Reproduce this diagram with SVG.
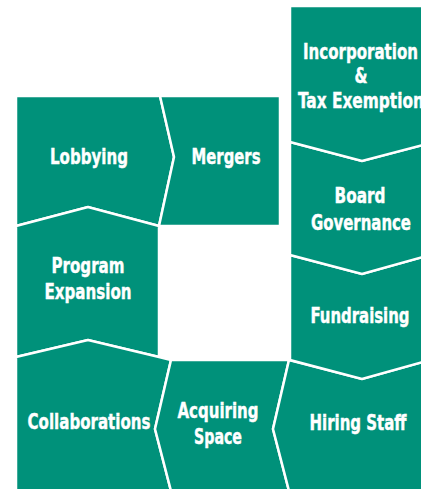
<svg xmlns="http://www.w3.org/2000/svg" width="421" height="489" viewBox="0 0 421 489">
<style>
.n{fill:#00917A;stroke:#fff;stroke-width:2.5;stroke-linejoin:miter}
.t{fill:#fff;stroke:#fff;stroke-width:0.4;font-family:"DejaVu Sans Condensed","Liberation Sans",sans-serif;font-weight:bold;font-size:21px;text-anchor:middle}
</style>
<rect width="421" height="489" fill="#fff"/>
<g id="lobbying"><polygon class="n" points="16,96 160,96 174,157 159,226 88,207 16,226"/><text class="t" x="89" y="164" textLength="78" lengthAdjust="spacingAndGlyphs">Lobbying</text></g>
<g id="mergers"><polygon class="n" points="160,96 280,96 280,226 159,226 174,157"/><text class="t" x="226" y="164" textLength="69" lengthAdjust="spacingAndGlyphs">Mergers</text></g>
<g id="program-expansion"><polygon class="n" points="16,226 88,207 159,226 159,357 88,340 16,357"/><text class="t" x="88" y="273" textLength="73" lengthAdjust="spacingAndGlyphs">Program</text><text class="t" x="88" y="299" textLength="87" lengthAdjust="spacingAndGlyphs">Expansion</text></g>
<g id="collaborations"><polygon class="n" points="16,357 88,340 159,357 171,360 155,429 171,491 16,491"/><text class="t" x="89" y="429" textLength="123" lengthAdjust="spacingAndGlyphs">Collaborations</text></g>
<g id="acquiring-space"><polygon class="n" points="171,360 289,360 273,429 289,491 171,491 155,429"/><text class="t" x="218" y="418" textLength="81" lengthAdjust="spacingAndGlyphs">Acquiring</text><text class="t" x="218" y="444" textLength="48" lengthAdjust="spacingAndGlyphs">Space</text></g>
<g id="hiring-staff"><polygon class="n" points="289,360 362,379 423,362 423,491 289,491 273,429"/><text class="t" x="358" y="430" textLength="97" lengthAdjust="spacingAndGlyphs">Hiring Staff</text></g>
<g id="fundraising"><polygon class="n" points="290,255 362,274 423,257 423,362 362,379 290,360"/><text class="t" x="360" y="323" textLength="99" lengthAdjust="spacingAndGlyphs">Fundraising</text></g>
<g id="board-governance"><polygon class="n" points="290,142 362,161 423,145 423,257 362,274 290,255"/><text class="t" x="360" y="203" textLength="51" lengthAdjust="spacingAndGlyphs">Board</text><text class="t" x="361" y="230" textLength="100" lengthAdjust="spacingAndGlyphs">Governance</text></g>
<g id="incorporation"><polygon class="n" points="290,6 423,6 423,145 362,161 290,142"/><text class="t" x="360.5" y="59" textLength="115" lengthAdjust="spacingAndGlyphs">Incorporation</text><text class="t" x="361" y="83" textLength="13" lengthAdjust="spacingAndGlyphs">&amp;</text><text class="t" x="361" y="108" textLength="126" lengthAdjust="spacingAndGlyphs">Tax Exemption</text></g>
<g id="connectors"></g>
</svg>
